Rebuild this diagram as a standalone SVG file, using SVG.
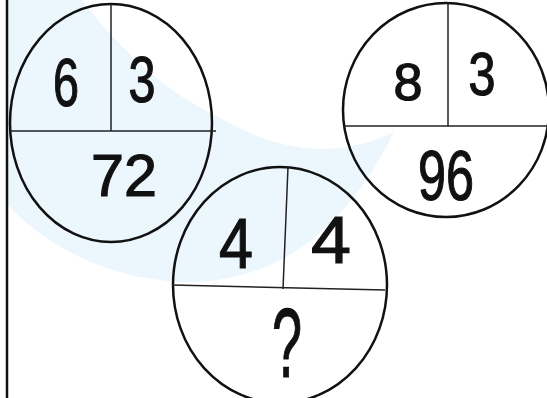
<svg xmlns="http://www.w3.org/2000/svg" width="547" height="398" viewBox="0 0 547 398">
<style>
.ring{fill:none;stroke:#111;stroke-width:2.5}
.div{stroke:#222;stroke-width:1.5;fill:none}
.num{font-family:"Liberation Sans",Arial,sans-serif;fill:#111;text-anchor:middle;stroke:#111;stroke-width:1.2}
</style>
<rect width="547" height="398" fill="#ffffff"/>
<path d="M 8,0 L 82,0 C 120,50 170,95 215,115 C 265,145 325,165 394,132 C 360,200 300,285 180,282 C 100,278 40,240 8,205 Z" fill="#ecf6fd"/>
<line x1="7" y1="0" x2="7" y2="398" stroke="#111" stroke-width="2.5"/>
<g id="circle1">
<ellipse class="ring" cx="111" cy="123" rx="101" ry="119"/>
<line class="div" x1="111" y1="4" x2="111" y2="131"/>
<line class="div" x1="10" y1="131" x2="216" y2="131"/>
<text class="num" x="66" y="106" font-size="68" textLength="26" lengthAdjust="spacingAndGlyphs">6</text>
<text class="num" x="142" y="102" font-size="64" textLength="27" lengthAdjust="spacingAndGlyphs">3</text>
<text class="num" x="124" y="196" font-size="60" textLength="66" lengthAdjust="spacingAndGlyphs">72</text>
</g>
<g id="circle2">
<ellipse class="ring" cx="446" cy="110" rx="103" ry="107"/>
<line class="div" x1="448" y1="3" x2="448" y2="126"/>
<line class="div" x1="344" y1="126" x2="547" y2="126"/>
<text class="num" x="408" y="100" font-size="52" textLength="29" lengthAdjust="spacingAndGlyphs">8</text>
<text class="num" x="482" y="95" font-size="62" textLength="27" lengthAdjust="spacingAndGlyphs">3</text>
<text class="num" x="446" y="200" font-size="70" textLength="56" lengthAdjust="spacingAndGlyphs">96</text>
</g>
<g id="circle3">
<ellipse class="ring" cx="280" cy="285" rx="107" ry="118"/>
<line class="div" x1="288" y1="167" x2="283" y2="289"/>
<line class="div" x1="172" y1="285" x2="385" y2="290"/>
<text class="num" x="236" y="268" font-size="70" textLength="34" lengthAdjust="spacingAndGlyphs">4</text>
<text class="num" x="331" y="263" font-size="66" textLength="40" lengthAdjust="spacingAndGlyphs">4</text>
<text class="num" x="287" y="377" font-size="98" textLength="30" lengthAdjust="spacingAndGlyphs">?</text>
</g>
<g id="connectors"/>
</svg>
